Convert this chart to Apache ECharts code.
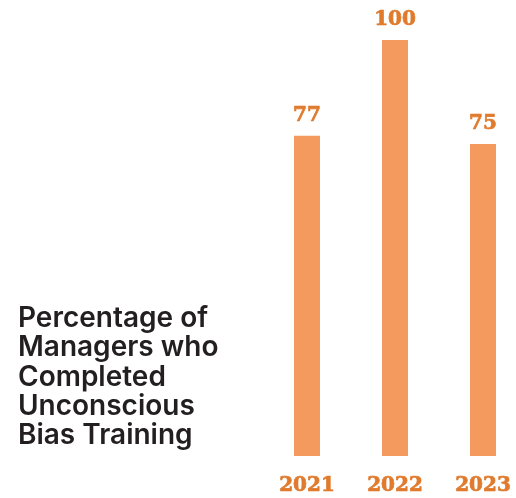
<!DOCTYPE html>
<html>
<head>
<meta charset="utf-8">
<script src="https://cdn.jsdelivr.net/npm/echarts@6/dist/echarts.min.js"></script>
<style>
  html, body { margin: 0; padding: 0; background: #ffffff; }
  #chart { width: 516px; height: 498px; }
</style>
</head>
<body>
<div id="chart"></div>
<script>
// Share of managers who completed unconscious bias training, by year
const years = ['2021', '2022', '2023'];
const completedPct = [77, 100, 75];
const titleLines = ['Percentage of', 'Managers who', 'Completed', 'Unconscious', 'Bias Training'];

const barColor = '#F59A5E';
const labelColor = '#E07B2E';
const numberFont = '"DejaVu Serif", serif';

// heavy serif numerals: bold face plus a thin outline in the same colour
const numberStyle = {
  color: labelColor,
  fontFamily: numberFont,
  fontWeight: 'bold',
  fontSize: 20,
  textBorderColor: labelColor,
  textBorderWidth: 0.7
};

const chart = echarts.init(document.getElementById('chart'), null, { renderer: 'canvas' });

chart.setOption({
  animation: false,
  backgroundColor: '#ffffff',
  grid: { left: 307, width: 176, top: 40, bottom: 42, containLabel: false },
  xAxis: {
    type: 'category',
    data: years,
    boundaryGap: false,
    axisLine: { show: false },
    axisTick: { show: false },
    splitLine: { show: false },
    axisLabel: Object.assign({ margin: 20 }, numberStyle)
  },
  yAxis: {
    type: 'value',
    min: 0,
    max: 100,
    show: false
  },
  series: [{
    type: 'bar',
    data: completedPct,
    barWidth: 26,
    itemStyle: { color: barColor },
    label: Object.assign({ show: true, position: 'top', distance: 10 }, numberStyle)
  }],
  graphic: [{
    type: 'text',
    left: 18,
    top: 304,
    style: {
      text: titleLines.join('\n'),
      fill: '#231F20',
      font: '600 28px Inter, "Noto Sans", sans-serif',
      lineHeight: 29.3
    }
  }]
});
</script>
</body>
</html>
